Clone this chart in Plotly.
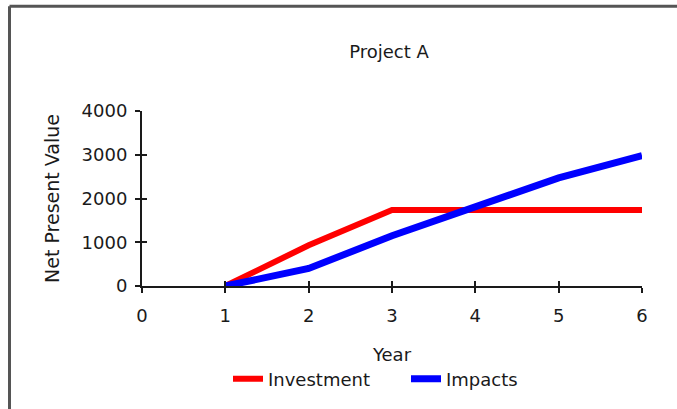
import plotly.graph_objects as go

# Net present value by year for Project A
years = [1, 2, 3, 4, 5, 6]
investment = [0, 930, 1735, 1735, 1735, 1735]
impacts = [0, 400, 1150, 1830, 2470, 2980]

x_ticks = [0, 1, 2, 3, 4, 5, 6]
y_ticks = [0, 1000, 2000, 3000, 4000]

FONT = "DejaVu Sans"
INK = "#1a1a1a"

fig = go.Figure()

fig.add_trace(go.Scatter(
    x=years, y=investment, name="Investment", mode="lines",
    line=dict(color="#ff0000", width=6),
    xaxis="x", yaxis="y",
))
fig.add_trace(go.Scatter(
    x=years, y=impacts, name="Impacts", mode="lines",
    line=dict(color="#0000ff", width=7),
    xaxis="x2", yaxis="y2",
))

axis_common = dict(
    showgrid=False, zeroline=False, automargin=False,
    tickcolor=INK, tickwidth=2, ticklen=5,
)

fig.update_layout(
    width=677, height=409,
    margin=dict(l=142, r=35, t=111, b=121),
    paper_bgcolor="white", plot_bgcolor="white",
    font=dict(family=FONT, size=18, color=INK),
    title=dict(text="Project A", x=(389 - 142) / 500, xref="paper", xanchor="center",
               y=1 - 52 / 409, yanchor="middle", font=dict(size=18)),
    xaxis=dict(
        range=[0, 6], tickvals=x_ticks, ticktext=[str(v) for v in x_ticks],
        ticks="outside", showline=True, linecolor=INK, linewidth=2,
        ticklabelstandoff=7,
        title=dict(text="Year", standoff=24, font=dict(size=18)),
        **axis_common,
    ),
    yaxis=dict(
        range=[0, 4000], tickvals=y_ticks, ticktext=[str(v) for v in y_ticks],
        ticks="outside", showline=True, linecolor=INK, linewidth=2,
        ticklabelstandoff=4,
        title=dict(text="Net Present Value", standoff=17, font=dict(size=19)),
        **axis_common,
    ),
    # overlay axes carry the inward half of the crossing tick marks
    xaxis2=dict(
        range=[0, 6], tickvals=x_ticks, ticks="inside", showticklabels=False,
        showline=False, overlaying="x", anchor="y2", side="bottom",
        **axis_common,
    ),
    yaxis2=dict(
        range=[0, 4000], tickvals=y_ticks, ticks="inside", showticklabels=False,
        showline=False, overlaying="y", anchor="x2", side="left",
        **axis_common,
    ),
    legend=dict(
        orientation="h", x=(228 - 142) / 500, xanchor="left",
        y=-(382 - 288) / 177, yanchor="middle",
        font=dict(size=18), bgcolor="rgba(0,0,0,0)",
        entrywidth=133, entrywidthmode="pixels",
    ),
    showlegend=True,
)

# outer chart frame along the left and top edges
px_w, px_h = 500, 177
left_x = (9.5 - 142) / px_w
top_y = (288 - 5) / px_h
fig.add_shape(type="line", xref="paper", yref="paper",
              x0=left_x, x1=left_x, y0=-3, y1=top_y,
              line=dict(color="#555555", width=3))
fig.add_shape(type="line", xref="paper", yref="paper",
              x0=left_x, x1=2, y0=top_y, y1=top_y,
              line=dict(color="#555555", width=3))

fig.write_html("out.html")
